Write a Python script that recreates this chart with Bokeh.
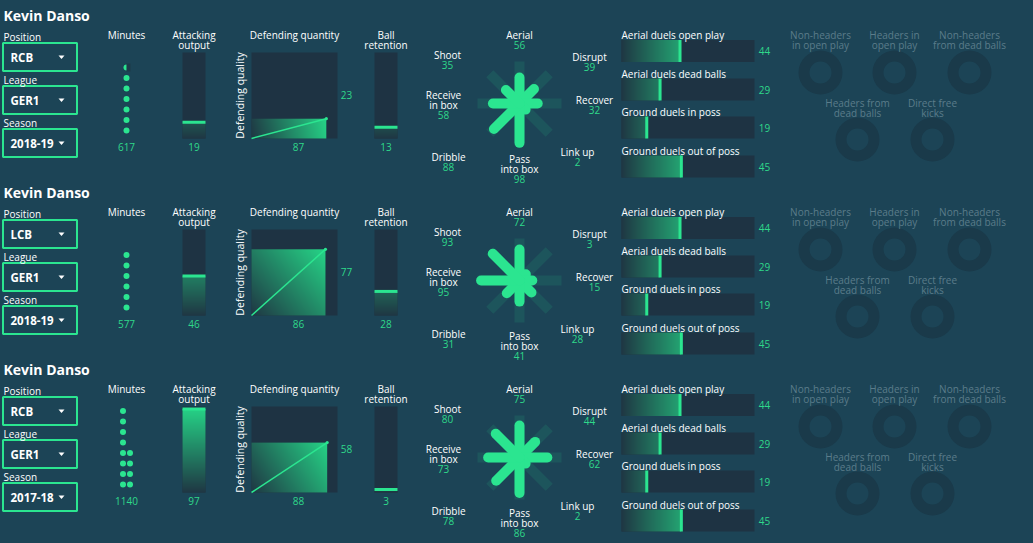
import math
import numpy as np
from bokeh.plotting import figure
from bokeh.models import Range1d, ColumnDataSource, GlobalInlineStyleSheet
from bokeh.core.properties import value
from bokeh.embed import file_html
from bokeh.resources import INLINE

# ---------------- data ----------------
player = "Kevin Danso"
positions = ["RCB", "LCB", "RCB"]
leagues = ["GER1", "GER1", "GER1"]
seasons = ["2018-19", "2018-19", "2017-18"]
minutes = [617, 577, 1140]
attacking_output = [19, 46, 97]
defending_quantity = [87, 86, 88]
defending_quality = [23, 77, 58]
ball_retention = [13, 28, 3]

style_labels = ["Aerial", "Disrupt", "Recover", "Link up", "Pass\ninto box",
                "Dribble", "Receive\nin box", "Shoot"]
aerial = [56, 72, 75]
disrupt = [39, 3, 44]
recover = [32, 15, 62]
link_up = [2, 28, 2]
pass_into_box = [98, 41, 86]
dribble = [88, 31, 78]
receive_in_box = [58, 95, 73]
shoot = [35, 93, 80]

duel_labels = ["Aerial duels open play", "Aerial duels dead balls",
               "Ground duels in poss", "Ground duels out of poss"]
aerial_duels_open = [44, 44, 44]
aerial_duels_dead = [29, 29, 29]
ground_duels_in = [19, 19, 19]
ground_duels_out = [45, 45, 45]

set_piece_labels = ["Non-headers\nin open play", "Headers in\nopen play",
                    "Non-headers\nfrom dead balls", "Headers from\ndead balls",
                    "Direct free\nkicks"]
MINUTES_PER_DOT = 95

# ---------------- style ----------------
BG = "#1c4456"
PANEL = "#1e3343"
GREEN = "#2be590"
VAL = "#2fd88a"
DONUT = "#1a3a4a"
MUTED = "#5b7c8a"
WHITE = "#ffffff"
FONT = "Open Sans"
C0 = (31, 56, 68)
C1 = (38, 214, 136)

ROW_OFF = [0, 177, 354]

p = figure(width=1033, height=543, x_range=Range1d(0, 1033), y_range=Range1d(-543, 0),
           output_backend="svg", toolbar_location=None, x_axis_type=None, y_axis_type=None,
           background_fill_color=BG, border_fill_color=BG, outline_line_color=None,
           min_border=0)
p.grid.visible = False
p.stylesheets.append(GlobalInlineStyleSheet(
    css="html, body { margin: 0; padding: 0; overflow: hidden; background: %s; }" % BG))

texts = {}


def T(x, sy, txt, color=WHITE, size=10, bold=False, align="center", angle=0.0):
    key = (color, size, bold, align, angle)
    d = texts.setdefault(key, {"x": [], "y": [], "text": []})
    d["x"].append(x)
    d["y"].append(-sy)
    d["text"].append(txt)


def T_lines(x, sy, txt, step=10, **kw):
    lines = txt.split("\n")
    for i, ln in enumerate(lines):
        T(x, sy + i * step, ln, **kw)
    return sy + len(lines) * step


def grad(x0, sy_bottom, w, h, tfun):
    if w < 0.5 or h < 0.5:
        return
    W = max(1, int(round(w)))
    H = max(1, int(round(h)))
    xs = (np.arange(W) + 0.5) * w / W
    ys = (np.arange(H) + 0.5) * h / H
    X, Yg = np.meshgrid(xs, ys)
    t = np.clip(tfun(X, Yg), 0, 1)
    rgba = np.zeros((H, W, 4), dtype=np.uint8)
    for k in range(3):
        rgba[..., k] = (C0[k] + (C1[k] - C0[k]) * t).astype(np.uint8)
    rgba[..., 3] = 255
    img = rgba.view(np.uint32).reshape(H, W)
    p.image_rgba(image=[img], x=x0, y=-sy_bottom, dw=w, dh=h)


def rect_screen(x0, x1, sy0, sy1, color, **kw):
    p.quad(left=x0, right=x1, top=-sy0, bottom=-sy1, fill_color=color, line_color=None, **kw)


SPOKE_DEG = [90, 45, 0, -45, -90, -135, 180, 135]
STAR_LABEL_OFF = [(0, -69), (70, -47), (75, -4), (58, 48), (0, 55), (-71, 53), (-76, -9), (-72, -49)]
DONUT_POS = [(820, 72), (894, 72), (969, 72), (857, 139), (932, 139)]
DONUT_LABEL_Y = [34, 34, 34, 102, 102]

for r in range(3):
    o = ROW_OFF[r]
    # ---- left selector panel ----
    T(3, 15 + o, player, size=14, bold=True, align="left")
    for lab, val, ly in zip(["Position", "League", "Season"],
                            [positions[r], leagues[r], seasons[r]], [36, 79, 122]):
        T(3, ly + o, lab, size=10, align="left")
        cy = ly + 20.5 + o
        p.rect(x=39.5, y=-cy, width=74, height=28, fill_color=BG, line_color=GREEN, line_width=2)
        T(10, cy, val, size=11.5, bold=True, align="left")
        p.patch(x=[58, 64, 61], y=[-(cy - 1.5), -(cy - 1.5), -(cy + 2)], fill_color=WHITE, line_color=None)

    # ---- minutes dots ----
    T(126, 34 + o, "Minutes")
    m = minutes[r] / MINUTES_PER_DOT
    full = int(math.floor(m))
    frac = m - full
    total = full + (1 if frac > 0.12 else 0)
    ncols = max(1, math.ceil(total / 8))
    dx, dy = [], []
    for i in range(total):
        row, col = i % 8, i // 8
        dx.append(126 - (ncols - 1) * 3.5 + col * 7)
        dy.append(-(130 - row * 10.5 + o))
    p.circle(x=dx, y=dy, radius=3, fill_color=GREEN, line_color=None)
    if total > full:
        lx, ly_ = dx[-1], -dy[-1]
        cut = lx - 3 + 6 * frac
        rect_screen(cut, lx + 4, ly_ - 4, ly_ + 4, "#1d3a49")
    T(126, 146 + o, str(minutes[r]), color=VAL)

    # ---- vertical bars ----
    for name, vals, x0 in [("Attacking\noutput", attacking_output, 182),
                           ("Ball\nretention", ball_retention, 374)]:
        w, top, bot = 23, 52 + o, 138 + o
        H = bot - top
        T_lines(x0 + w / 2, 34 + o, name)
        rect_screen(x0, x0 + w, top, bot, PANEL)
        fh = H * vals[r] / 100
        grad(x0, bot, w, fh, lambda X, Y: Y / H)
        ly = max(top + 1.5, min(bot - 3, bot - fh))
        rect_screen(x0, x0 + w, ly - 1.5, ly + 1.5, GREEN)
        T(x0 + w / 2, 146 + o, str(vals[r]), color=VAL)

    # ---- defending square ----
    x0, top, bot, S = 251, 52 + o, 138 + o, 86
    T(294, 34 + o, "Defending quantity")
    T(239, 95 + o, "Defending quality", size=10.5, angle=math.pi / 2)
    rect_screen(x0, x0 + S, top, bot, PANEL)
    fw = S * defending_quantity[r] / 100
    fh = S * defending_quality[r] / 100
    grad(x0, bot, fw, fh, lambda X, Y: (X * fw + Y * fh) / (fw * fw + fh * fh))
    p.line(x=[x0, x0 + fw], y=[-bot, -(bot - fh)], line_color=GREEN, line_width=1.5)
    p.circle(x=[x0 + fw], y=[-(bot - fh)], radius=1.6, fill_color=GREEN, line_color=None)
    T(346, 94 + o, str(defending_quality[r]), color=VAL)
    T(298, 146 + o, str(defending_quantity[r]), color=VAL)

    # ---- style star ----
    cx, cy = 519, 103 + o
    svals = [aerial[r], disrupt[r], recover[r], link_up[r], pass_into_box[r],
             dribble[r], receive_in_box[r], shoot[r]]
    bx0, by0, bx1, by1 = [], [], [], []
    fx1, fy1 = [], []
    for ang, v in zip(SPOKE_DEG, svals):
        a = math.radians(ang)
        bx0.append(cx); by0.append(-cy)
        bx1.append(cx + 42 * math.cos(a)); by1.append(-cy + 42 * math.sin(a))
        rr = 8 + 32 * v / 100
        fx1.append(cx + rr * math.cos(a)); fy1.append(-cy + rr * math.sin(a))
    p.segment(x0=bx0, y0=by0, x1=bx1, y1=by1, line_color=GREEN, line_alpha=0.11,
              line_width=10, line_cap="butt")
    p.segment(x0=bx0, y0=by0, x1=fx1, y1=fy1, line_color=GREEN, line_width=10, line_cap="round")
    for lab, v, (ox, oy) in zip(style_labels, svals, STAR_LABEL_OFF):
        ny = T_lines(cx + ox, cy + oy, lab)
        T(cx + ox, ny, str(v), color=VAL)

    # ---- duel bars ----
    dvals = [aerial_duels_open[r], aerial_duels_dead[r], ground_duels_in[r], ground_duels_out[r]]
    for lab, v, ly, bc in zip(duel_labels, dvals, [34, 73, 111, 150], [50.5, 89, 127, 166]):
        x0, W = 621, 133
        T(x0, ly + o, lab, align="left")
        b0, b1 = bc - 11 + o, bc + 11 + o
        rect_screen(x0, x0 + W, b0, b1, PANEL)
        fw = W * v / 100
        grad(x0, b1, fw, 22, lambda X, Y: 1.55 * X / W)
        rect_screen(x0 + fw - 1.5, x0 + fw + 1.5, b0, b1, GREEN)
        T(764, bc + o, str(v), color=VAL)

    # ---- set piece donuts ----
    for lab, (dxc, dyc), ly in zip(set_piece_labels, DONUT_POS, DONUT_LABEL_Y):
        T_lines(dxc, ly + o, lab, color=MUTED)
        p.annulus(x=dxc, y=-(dyc + o), inner_radius=11, outer_radius=22,
                  fill_color=DONUT, line_color=None)

for (color, size, bold, align, angle), d in texts.items():
    p.text(x="x", y="y", text="text", source=ColumnDataSource(d), text_color=color,
           text_font=value(FONT), text_font_size=value(f"{size}px"),
           text_font_style="bold" if bold else "normal", text_align=align,
           text_baseline="middle", angle=angle)

open("out.html", "w").write(file_html(p, INLINE))
